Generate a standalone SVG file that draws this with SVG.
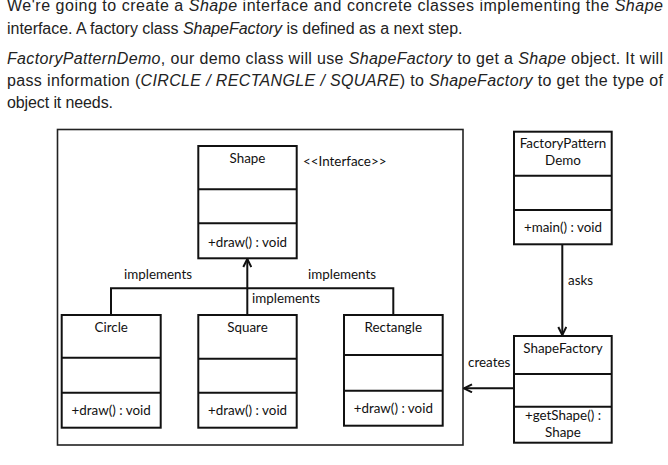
<svg xmlns="http://www.w3.org/2000/svg" width="668" height="465" viewBox="0 0 668 465">
<style>
.p{font-family:"Liberation Sans",Arial,sans-serif;font-size:16px;fill:#222}
.i{font-style:italic}
.t{font-family:Lato,"Noto Sans",sans-serif;font-size:13.4px;fill:#111}
.c{text-anchor:middle}
.box{fill:#fff;stroke:#111;stroke-width:2}
.div{stroke:#111;stroke-width:2}
.ln{stroke:#111;stroke-width:2;fill:none}
</style>
<defs>
<marker id="arr" viewBox="0 0 10 10" refX="9" refY="5" markerWidth="10" markerHeight="10" markerUnits="userSpaceOnUse" orient="auto">
<path d="M1,1 L9,5 L1,9" fill="none" stroke="#111" stroke-width="2"/>
</marker>
</defs>
<rect width="668" height="465" fill="#fff"/>
<g id="intro">
<text class="p" x="7" y="11" textLength="656" lengthAdjust="spacing">We're going to create a <tspan class="i">Shape</tspan> interface and concrete classes implementing the <tspan class="i">Shape</tspan></text>
<text class="p" x="7" y="33.5" textLength="455.5" lengthAdjust="spacing">interface. A factory class <tspan class="i">ShapeFactory</tspan> is defined as a next step.</text>
<text class="p" x="7" y="64.3" textLength="656" lengthAdjust="spacing"><tspan class="i">FactoryPatternDemo</tspan>, our demo class will use <tspan class="i">ShapeFactory</tspan> to get a <tspan class="i">Shape</tspan> object. It will</text>
<text class="p" x="7" y="86" textLength="656" lengthAdjust="spacing">pass information (<tspan class="i">CIRCLE / RECTANGLE / SQUARE</tspan>) to <tspan class="i">ShapeFactory</tspan> to get the type of</text>
<text class="p" x="7" y="108.3" textLength="106" lengthAdjust="spacing">object it needs.</text>
</g>
<g id="frame">
<rect x="57.5" y="129.5" width="405.5" height="315.5" fill="none" stroke="#222" stroke-width="1.6"/>
</g>
<g id="connectors">
<path class="ln" d="M247.3,315 V259" marker-end="url(#arr)"/>
<path class="ln" d="M111,315 V288.3 H393.3 V315"/>
<path class="ln" d="M562.3,244.3 V335" marker-end="url(#arr)"/>
<path class="ln" d="M514,388.3 H464" marker-end="url(#arr)"/>
<text class="t" x="124" y="279">implements</text>
<text class="t" x="308" y="279">implements</text>
<text class="t" x="252" y="303">implements</text>
<text class="t" x="568" y="285">asks</text>
<text class="t" x="468" y="367">creates</text>
</g>
<g id="shape">
<rect class="box" x="198.3" y="146" width="98.4" height="112.3"/>
<line class="div" x1="198.3" y1="189.3" x2="296.7" y2="189.3"/>
<line class="div" x1="198.3" y1="223.3" x2="296.7" y2="223.3"/>
<text class="t c" x="247.5" y="163">Shape</text>
<text class="t c" x="247.5" y="246.5">+draw() : void</text>
<text class="t" x="303" y="166">&lt;&lt;Interface&gt;&gt;</text>
</g>
<g id="circle">
<rect class="box" x="61.7" y="315" width="99" height="112.7"/>
<line class="div" x1="61.7" y1="357.7" x2="160.7" y2="357.7"/>
<line class="div" x1="61.7" y1="392.7" x2="160.7" y2="392.7"/>
<text class="t c" x="111.2" y="331.7">Circle</text>
<text class="t c" x="111.2" y="415">+draw() : void</text>
</g>
<g id="square">
<rect class="box" x="198.3" y="315" width="98.4" height="112.7"/>
<line class="div" x1="198.3" y1="358.7" x2="296.7" y2="358.7"/>
<line class="div" x1="198.3" y1="392.7" x2="296.7" y2="392.7"/>
<text class="t c" x="247.5" y="331.7">Square</text>
<text class="t c" x="247.5" y="415">+draw() : void</text>
</g>
<g id="rectangle">
<rect class="box" x="344" y="315" width="98.7" height="110.7"/>
<line class="div" x1="344" y1="355" x2="442.7" y2="355"/>
<line class="div" x1="344" y1="390.7" x2="442.7" y2="390.7"/>
<text class="t c" x="393.3" y="331.7">Rectangle</text>
<text class="t c" x="393.3" y="412.7">+draw() : void</text>
</g>
<g id="factoryPatternDemo">
<rect class="box" x="514" y="131.7" width="97.7" height="112.6"/>
<line class="div" x1="514" y1="175.7" x2="611.7" y2="175.7"/>
<line class="div" x1="514" y1="210" x2="611.7" y2="210"/>
<text class="t c" x="563" y="148.3">FactoryPattern</text>
<text class="t c" x="563" y="165">Demo</text>
<text class="t c" x="563" y="231.7">+main() : void</text>
</g>
<g id="shapeFactory">
<rect class="box" x="514" y="336" width="97.7" height="106.7"/>
<line class="div" x1="514" y1="374" x2="611.7" y2="374"/>
<line class="div" x1="514" y1="406.7" x2="611.7" y2="406.7"/>
<text class="t c" x="563" y="353.3">ShapeFactory</text>
<text class="t c" x="563" y="420">+getShape() :</text>
<text class="t c" x="563" y="437.3">Shape</text>
</g>
</svg>
